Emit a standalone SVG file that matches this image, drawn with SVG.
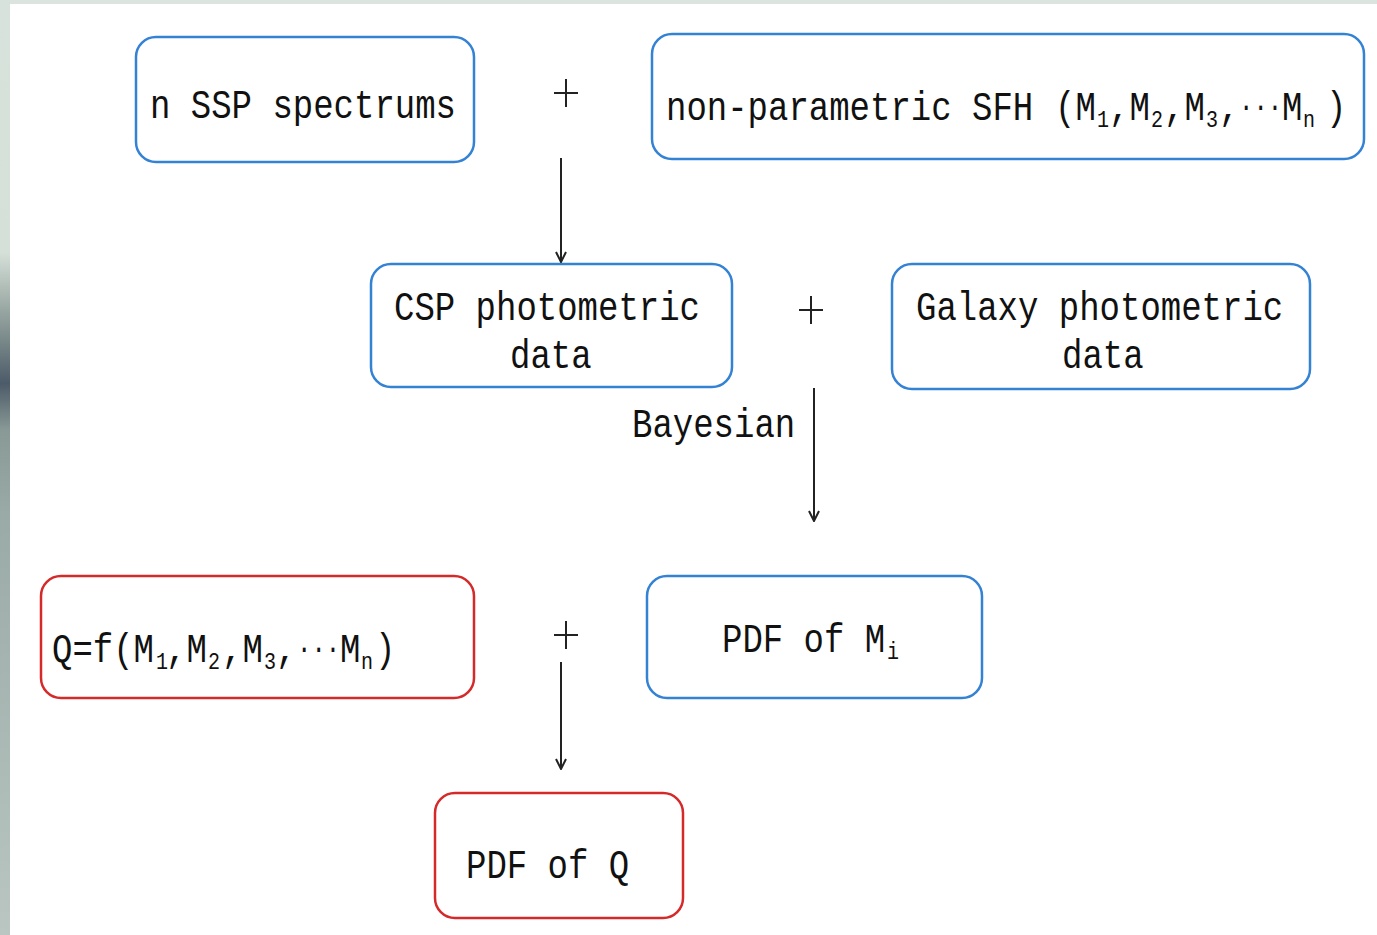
<svg xmlns="http://www.w3.org/2000/svg" width="1377" height="935" viewBox="0 0 1377 935">
  <defs>
    <linearGradient id="edgeShade" x1="0" y1="0" x2="0" y2="1">
      <stop offset="0" stop-color="#d8e2dc"/>
      <stop offset="0.27" stop-color="#d4e0d8"/>
      <stop offset="0.31" stop-color="#aebbb5"/>
      <stop offset="0.36" stop-color="#7d8c8c"/>
      <stop offset="0.41" stop-color="#4c5b68"/>
      <stop offset="0.46" stop-color="#899996"/>
      <stop offset="0.55" stop-color="#9aaaa6"/>
      <stop offset="1" stop-color="#b9c6c2"/>
    </linearGradient>
    <marker id="arrow" viewBox="0 0 12 12" refX="11" refY="6" markerWidth="12" markerHeight="12" markerUnits="userSpaceOnUse" orient="auto">
      <path d="M1,1 L11,6 L1,11" fill="none" stroke="#222" stroke-width="2"/>
    </marker>
    <style>
      .box { fill: #fff; stroke-width: 2.5; }
      .blue { stroke: #3482d4; }
      .red { stroke: #d42a2a; }
      /* 34px monospace gives a 20.4px cell; texts are stretched 1.2x vertically */
      .t { font-family: "Liberation Mono", "DejaVu Sans Mono", monospace; font-size: 34px; fill: #111; }
      .sub { font-family: "Liberation Mono", "DejaVu Sans Mono", monospace; font-size: 20px; fill: #111; }
      .dots { font-family: "Liberation Mono", "DejaVu Sans Mono", monospace; font-size: 24px; fill: #111; }
      .conn { stroke: #222; stroke-width: 2; fill: none; }
      .plus { stroke: #222; stroke-width: 2; fill: none; }
    </style>
  </defs>

  <!-- page background and window edges -->
  <rect x="0" y="0" width="1377" height="935" fill="#fff"/>
  <rect x="0" y="0" width="1377" height="4" fill="#dce4e0"/>
  <rect x="0" y="0" width="10" height="935" fill="url(#edgeShade)"/>

  <g id="node-ssp">
    <rect class="box blue" x="136" y="37" width="338" height="125" rx="20"/>
    <text class="t" transform="translate(150,118) scale(1,1.2)">n SSP spectrums</text>
  </g>

  <g id="node-sfh">
    <rect class="box blue" x="652" y="34" width="712" height="125" rx="20"/>
    <text class="t" transform="translate(666,120) scale(1,1.2)">non-parametric SFH</text>
    <text class="t" transform="translate(1055,120) scale(1,1.2)">(M</text>
    <text class="sub" transform="translate(1097,127) scale(1,1.2)">1</text>
    <text class="t" transform="translate(1109,120) scale(1,1.2)">,M</text>
    <text class="sub" transform="translate(1151,127) scale(1,1.2)">2</text>
    <text class="t" transform="translate(1164,120) scale(1,1.2)">,M</text>
    <text class="sub" transform="translate(1206,127) scale(1,1.2)">3</text>
    <text class="t" transform="translate(1219,120) scale(1,1.2)">,</text>
    <text class="dots" transform="translate(1239,116) scale(1,1.2)">···</text>
    <text class="t" transform="translate(1282,120) scale(1,1.2)">M</text>
    <text class="sub" transform="translate(1303,127) scale(1,1.2)">n</text>
    <text class="t" transform="translate(1326,120) scale(1,1.2)">)</text>
  </g>

  <g id="node-csp">
    <rect class="box blue" x="371" y="264" width="361" height="123" rx="20"/>
    <text class="t" transform="translate(394,320) scale(1,1.2)">CSP photometric</text>
    <text class="t" transform="translate(510,368) scale(1,1.2)">data</text>
  </g>

  <g id="node-galaxy">
    <rect class="box blue" x="892" y="264" width="418" height="125" rx="20"/>
    <text class="t" transform="translate(916,320) scale(1,1.2)">Galaxy photometric</text>
    <text class="t" transform="translate(1062,368) scale(1,1.2)">data</text>
  </g>

  <g id="node-q">
    <rect class="box red" x="41" y="576" width="433" height="122" rx="20"/>
    <text class="t" transform="translate(52,662) scale(1,1.2)">Q=f(M</text>
    <text class="sub" transform="translate(156,669) scale(1,1.2)">1</text>
    <text class="t" transform="translate(166,662) scale(1,1.2)">,M</text>
    <text class="sub" transform="translate(208,669) scale(1,1.2)">2</text>
    <text class="t" transform="translate(222,662) scale(1,1.2)">,M</text>
    <text class="sub" transform="translate(264,669) scale(1,1.2)">3</text>
    <text class="t" transform="translate(276,662) scale(1,1.2)">,</text>
    <text class="dots" transform="translate(297,658) scale(1,1.2)">···</text>
    <text class="t" transform="translate(340,662) scale(1,1.2)">M</text>
    <text class="sub" transform="translate(361,669) scale(1,1.2)">n</text>
    <text class="t" transform="translate(375,662) scale(1,1.2)">)</text>
  </g>

  <g id="node-pdf-m">
    <rect class="box blue" x="647" y="576" width="335" height="122" rx="20"/>
    <text class="t" transform="translate(722,652) scale(1,1.2)">PDF of M</text>
    <text class="sub" transform="translate(887,659) scale(1,1.2)">i</text>
  </g>

  <g id="node-pdf-q">
    <rect class="box red" x="435" y="793" width="248" height="125" rx="20"/>
    <text class="t" transform="translate(466,878) scale(1,1.2)">PDF of Q</text>
  </g>

  <g id="connectors">
    <path class="plus" d="M554,93 H578 M566,79 V107"/>
    <path class="plus" d="M799,310 H823 M811,296 V324"/>
    <path class="plus" d="M554,635 H578 M566,621 V649"/>
    <line class="conn" x1="561" y1="158" x2="561" y2="262" marker-end="url(#arrow)"/>
    <line class="conn" x1="814" y1="388" x2="814" y2="521" marker-end="url(#arrow)"/>
    <line class="conn" x1="561" y1="662" x2="561" y2="769" marker-end="url(#arrow)"/>
    <text class="t" transform="translate(632,437) scale(1,1.2)">Bayesian</text>
  </g>
</svg>
